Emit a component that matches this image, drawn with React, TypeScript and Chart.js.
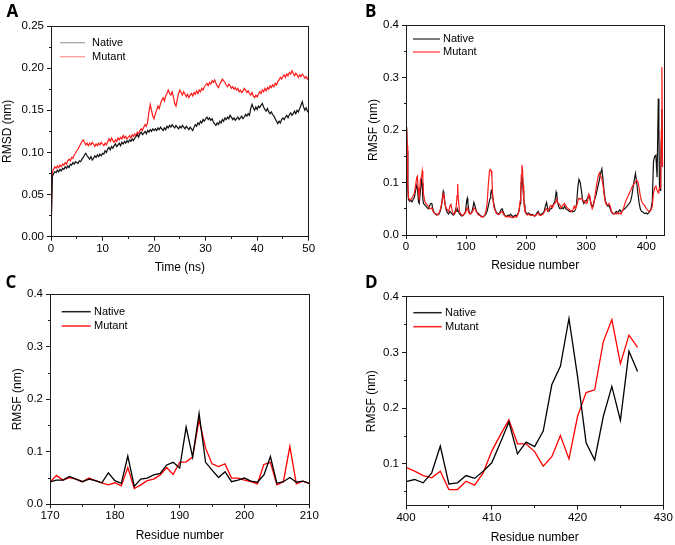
import React, { useEffect, useRef } from "react";
import { Chart, registerables } from "chart.js";
Chart.register(...registerables);

const FONT = "'Liberation Sans', Arial, Helvetica, sans-serif";

// ---------- Panel A : RMSD vs time ----------
const timeNs = Array.from({ length: 201 }, (_, i) => i * 0.25);
const rmsdNative = [
  0, 0.071, 0.075, 0.077, 0.076, 0.079, 0.077, 0.080, 0.078, 0.081, 0.080, 0.083, 0.081, 0.084, 0.082, 0.086, 0.085, 0.088, 0.086, 0.089, 0.088,
  0.087, 0.090, 0.089, 0.092, 0.094, 0.097, 0.099, 0.096, 0.094, 0.092, 0.095, 0.091, 0.093, 0.096, 0.094, 0.097, 0.095, 0.098, 0.096, 0.099,
  0.098, 0.102, 0.100, 0.104, 0.106, 0.103, 0.107, 0.105, 0.108, 0.110, 0.107, 0.109, 0.111, 0.108, 0.112, 0.110, 0.113, 0.111, 0.114, 0.112,
  0.115, 0.113, 0.116, 0.114, 0.117, 0.119, 0.121, 0.118, 0.122, 0.124, 0.121, 0.123, 0.125, 0.122, 0.126, 0.124, 0.127, 0.125, 0.128, 0.126,
  0.128, 0.126, 0.129, 0.127, 0.130, 0.128, 0.126, 0.129, 0.127, 0.131, 0.129, 0.132, 0.130, 0.133, 0.131, 0.129, 0.132, 0.130, 0.128, 0.131,
  0.129, 0.132, 0.130, 0.128, 0.131, 0.129, 0.127, 0.130, 0.128, 0.126, 0.130, 0.133, 0.131, 0.135, 0.133, 0.137, 0.135, 0.139, 0.137, 0.140,
  0.142, 0.139, 0.141, 0.138, 0.140, 0.136, 0.134, 0.132, 0.135, 0.133, 0.137, 0.135, 0.139, 0.137, 0.141, 0.139, 0.142, 0.140, 0.144, 0.142,
  0.139, 0.141, 0.138, 0.140, 0.142, 0.139, 0.141, 0.143, 0.140, 0.142, 0.145, 0.143, 0.146, 0.144, 0.152, 0.157, 0.153, 0.150, 0.154, 0.151,
  0.155, 0.153, 0.156, 0.158, 0.154, 0.151, 0.149, 0.152, 0.148, 0.146, 0.148, 0.145, 0.143, 0.140, 0.137, 0.134, 0.137, 0.135, 0.139, 0.141,
  0.139, 0.142, 0.144, 0.141, 0.145, 0.147, 0.144, 0.146, 0.149, 0.146, 0.150, 0.148, 0.152, 0.156, 0.160, 0.154, 0.150, 0.153, 0.149, 0.147,
];
const rmsdMutant = [
  0, 0.076, 0.080, 0.083, 0.081, 0.084, 0.082, 0.085, 0.083, 0.086, 0.085, 0.088, 0.086, 0.090, 0.092, 0.090, 0.094, 0.093, 0.097, 0.099, 0.102,
  0.104, 0.107, 0.110, 0.113, 0.115, 0.112, 0.109, 0.111, 0.108, 0.111, 0.109, 0.112, 0.110, 0.107, 0.110, 0.108, 0.111, 0.109, 0.112, 0.110,
  0.108, 0.111, 0.109, 0.113, 0.116, 0.113, 0.117, 0.114, 0.112, 0.115, 0.113, 0.117, 0.115, 0.118, 0.116, 0.120, 0.117, 0.119, 0.116, 0.118,
  0.120, 0.117, 0.121, 0.119, 0.122, 0.120, 0.124, 0.122, 0.126, 0.128, 0.126, 0.130, 0.133, 0.131, 0.136, 0.148, 0.157, 0.150, 0.143, 0.140,
  0.146, 0.150, 0.155, 0.152, 0.158, 0.162, 0.165, 0.161, 0.167, 0.170, 0.174, 0.170, 0.168, 0.172, 0.166, 0.158, 0.155, 0.163, 0.170, 0.174,
  0.171, 0.168, 0.172, 0.169, 0.166, 0.169, 0.165, 0.168, 0.170, 0.167, 0.171, 0.169, 0.173, 0.170, 0.174, 0.172, 0.176, 0.174, 0.178, 0.180,
  0.182, 0.179, 0.183, 0.181, 0.185, 0.183, 0.186, 0.182, 0.179, 0.177, 0.181, 0.184, 0.187, 0.185, 0.183, 0.180, 0.178, 0.181, 0.179, 0.176,
  0.178, 0.175, 0.177, 0.174, 0.176, 0.172, 0.174, 0.171, 0.173, 0.176, 0.174, 0.171, 0.173, 0.170, 0.168, 0.171, 0.167, 0.165, 0.168, 0.166,
  0.169, 0.172, 0.170, 0.174, 0.172, 0.176, 0.173, 0.177, 0.175, 0.179, 0.177, 0.180, 0.178, 0.182, 0.180, 0.184, 0.186, 0.189, 0.187, 0.190,
  0.192, 0.189, 0.193, 0.191, 0.195, 0.193, 0.197, 0.194, 0.191, 0.194, 0.192, 0.189, 0.192, 0.190, 0.193, 0.191, 0.188, 0.190, 0.187, 0.189,
];

// ---------- Panel B : RMSF whole protein ----------
const bResidues = [
  1, 2, 3, 4, 6, 8, 10, 12, 14, 16,
  18, 19, 20, 21, 22, 24, 26, 27, 28, 29,
  31, 33, 35, 37, 39, 41, 43, 45, 47, 49,
  51, 53, 55, 57, 59, 61, 62, 63, 65, 67,
  69, 71, 73, 75, 77, 79, 81, 83, 85, 86,
  87, 89, 91, 93, 95, 97, 99, 101, 102, 103,
  105, 107, 109, 111, 113, 115, 117, 119, 121, 123,
  125, 127, 129, 131, 133, 135, 137, 139, 140, 141,
  142, 143, 144, 146, 148, 150, 152, 154, 156, 158,
  160, 162, 164, 166, 168, 170, 172, 174, 176, 178,
  180, 182, 184, 186, 188, 190, 191, 192, 193, 194,
  195, 196, 197, 198, 200, 202, 204, 206, 208, 210,
  212, 214, 216, 218, 220, 222, 224, 226, 228, 230,
  232, 234, 236, 238, 240, 242, 244, 246, 248, 250,
  251, 252, 254, 256, 258, 260, 262, 264, 266, 268,
  270, 272, 274, 276, 278, 280, 282, 284, 286, 288,
  290, 292, 294, 296, 298, 300, 302, 304, 306, 308,
  310, 312, 314, 316, 318, 320, 322, 324, 326, 328,
  330, 332, 334, 336, 338, 340, 342, 344, 346, 348,
  350, 352, 354, 356, 358, 360, 362, 364, 366, 368,
  370, 372, 374, 376, 378, 380, 382, 384, 386, 388,
  390, 392, 394, 396, 398, 400, 402, 404, 406, 408,
  410, 412, 414, 416, 418, 420, 421, 422, 423, 424,
  425, 426, 427,
];
const bNative = [
  0.205, 0.16, 0.09, 0.068, 0.064, 0.066, 0.063, 0.068, 0.072, 0.085,
  0.095, 0.09, 0.075, 0.062, 0.06, 0.085, 0.105, 0.098, 0.07, 0.06,
  0.058, 0.055, 0.052, 0.05, 0.055, 0.06, 0.06, 0.048, 0.042, 0.04,
  0.038, 0.04, 0.04, 0.045, 0.055, 0.075, 0.083, 0.078, 0.06, 0.048,
  0.042, 0.04, 0.045, 0.042, 0.04, 0.038, 0.042, 0.05, 0.045, 0.048,
  0.045, 0.04, 0.038, 0.036, 0.037, 0.04, 0.045, 0.065, 0.07, 0.06,
  0.045, 0.04, 0.042, 0.05, 0.062, 0.055, 0.045, 0.042, 0.04, 0.038,
  0.036, 0.035, 0.035, 0.037, 0.04, 0.045, 0.055, 0.065, 0.07, 0.078,
  0.085, 0.087, 0.075, 0.06, 0.05, 0.044, 0.041, 0.04, 0.042, 0.048,
  0.05, 0.044, 0.038, 0.036, 0.036, 0.038, 0.036, 0.04, 0.037, 0.035,
  0.036, 0.038, 0.036, 0.04, 0.045, 0.06, 0.08, 0.1, 0.112, 0.105,
  0.085, 0.07, 0.058, 0.048, 0.042, 0.04, 0.042, 0.04, 0.038, 0.039,
  0.038, 0.036, 0.038, 0.042, 0.045, 0.04, 0.038, 0.04, 0.042, 0.045,
  0.055, 0.062, 0.05, 0.045, 0.05, 0.05, 0.055, 0.06, 0.065, 0.082,
  0.078, 0.065, 0.055, 0.05, 0.05, 0.052, 0.05, 0.055, 0.05, 0.048,
  0.047, 0.045, 0.044, 0.046, 0.044, 0.045, 0.048, 0.06, 0.09, 0.106,
  0.1, 0.085, 0.065, 0.06, 0.065, 0.065, 0.07, 0.075, 0.07, 0.06,
  0.055, 0.058, 0.068, 0.075, 0.085, 0.095, 0.105, 0.118, 0.126, 0.105,
  0.08, 0.065, 0.058, 0.055, 0.056, 0.05, 0.044, 0.041, 0.04, 0.042,
  0.045, 0.042, 0.045, 0.048, 0.044, 0.046, 0.048, 0.05, 0.052, 0.055,
  0.058, 0.06, 0.065, 0.075, 0.09, 0.105, 0.117, 0.1, 0.08, 0.062,
  0.05, 0.045, 0.044, 0.042, 0.041, 0.042, 0.04, 0.042, 0.045, 0.05,
  0.065, 0.14, 0.15, 0.152, 0.11, 0.26, 0.2, 0.09, 0.085, 0.12,
  0.18, 0.24, 0.13,
];
const bMutant = [
  0.205, 0.17, 0.1, 0.072, 0.066, 0.068, 0.07, 0.075, 0.08, 0.095,
  0.11, 0.112, 0.09, 0.075, 0.07, 0.105, 0.112, 0.122, 0.11, 0.08,
  0.065, 0.06, 0.058, 0.055, 0.05, 0.05, 0.052, 0.045, 0.042, 0.04,
  0.04, 0.038, 0.042, 0.048, 0.058, 0.07, 0.078, 0.075, 0.058, 0.05,
  0.048, 0.045, 0.055, 0.058, 0.045, 0.04, 0.04, 0.045, 0.075, 0.097,
  0.07, 0.045, 0.04, 0.038, 0.038, 0.04, 0.042, 0.05, 0.052, 0.048,
  0.042, 0.04, 0.042, 0.045, 0.052, 0.05, 0.045, 0.04, 0.038, 0.037,
  0.035, 0.034, 0.035, 0.038, 0.045, 0.06, 0.095, 0.122, 0.125, 0.124,
  0.122, 0.11, 0.08, 0.055, 0.048, 0.042, 0.04, 0.039, 0.04, 0.044,
  0.045, 0.04, 0.037, 0.035, 0.034, 0.036, 0.034, 0.035, 0.033, 0.033,
  0.034, 0.035, 0.034, 0.038, 0.045, 0.065, 0.085, 0.115, 0.133, 0.125,
  0.095, 0.07, 0.055, 0.045, 0.04, 0.038, 0.04, 0.038, 0.037, 0.038,
  0.037, 0.036, 0.037, 0.04, 0.042, 0.038, 0.037, 0.038, 0.04, 0.043,
  0.048, 0.05, 0.045, 0.048, 0.055, 0.056, 0.052, 0.058, 0.06, 0.065,
  0.07, 0.062, 0.06, 0.058, 0.052, 0.055, 0.058, 0.06, 0.056, 0.052,
  0.05, 0.048, 0.046, 0.045, 0.048, 0.055, 0.05, 0.055, 0.065, 0.07,
  0.068, 0.07, 0.068, 0.063, 0.065, 0.06, 0.062, 0.078, 0.075, 0.058,
  0.05, 0.055, 0.07, 0.085, 0.1, 0.112, 0.118, 0.112, 0.108, 0.095,
  0.075, 0.062, 0.057, 0.058, 0.06, 0.055, 0.045, 0.042, 0.04, 0.041,
  0.04, 0.043, 0.04, 0.042, 0.04, 0.045, 0.05, 0.058, 0.065, 0.07,
  0.075, 0.08, 0.085, 0.09, 0.095, 0.098, 0.1, 0.105, 0.102, 0.09,
  0.075, 0.065, 0.06, 0.058, 0.055, 0.05, 0.048, 0.045, 0.046, 0.048,
  0.055, 0.08, 0.09, 0.093, 0.085, 0.08, 0.085, 0.09, 0.09, 0.1,
  0.2, 0.32, 0.13,
];

// ---------- Panel C : residues 170-210 ----------
const cResidues = Array.from({ length: 41 }, (_, i) => 170 + i);
const cNative = [
  0.0425, 0.046, 0.046, 0.053, 0.048, 0.043, 0.048, 0.045, 0.041, 0.06,
  0.045, 0.04, 0.092, 0.034, 0.048, 0.05, 0.056, 0.059, 0.075, 0.08,
  0.069, 0.147, 0.09, 0.173, 0.08, 0.065, 0.051, 0.062, 0.043, 0.046,
  0.05, 0.044, 0.042, 0.056, 0.091, 0.04, 0.043, 0.051, 0.042, 0.044,
  0.04,
];
const cMutant = [
  0.042, 0.055, 0.046, 0.051, 0.048, 0.043, 0.05, 0.045, 0.041, 0.037,
  0.041, 0.035, 0.07, 0.03, 0.037, 0.045, 0.048, 0.056, 0.07, 0.057,
  0.08, 0.081, 0.09, 0.161, 0.107, 0.077, 0.072, 0.077, 0.05, 0.05,
  0.046, 0.043, 0.039, 0.076, 0.08, 0.037, 0.043, 0.11, 0.039, 0.044,
  0.04,
];

// ---------- Panel D : residues 400-427 ----------
const dResidues = Array.from({ length: 28 }, (_, i) => 400 + i);
const dNative = [
  0.068, 0.072, 0.066, 0.084, 0.132, 0.064, 0.066, 0.079, 0.074, 0.087,
  0.102, 0.138, 0.175, 0.118, 0.139, 0.131, 0.159, 0.242, 0.275, 0.361,
  0.257, 0.138, 0.107, 0.185, 0.239, 0.178, 0.302, 0.266,
];
const dMutant = [
  0.094, 0.087, 0.079, 0.075, 0.087, 0.054, 0.054, 0.069, 0.062, 0.084,
  0.123, 0.152, 0.179, 0.136, 0.136, 0.122, 0.096, 0.113, 0.151, 0.109,
  0.185, 0.228, 0.233, 0.319, 0.359, 0.28, 0.331, 0.309,
];

const legendLabels = ["Native", "Mutant"];

type Series = { x: number[]; y: number[]; color: string; order: number };
type Cfg = {
  letter: string;
  letterPos: [number, number];
  rect: [number, number, number, number];
  yAxisW: number;
  xAxisH: number;
  padTop: number;
  padRight: number;
  xTitlePad: number;
  yTitlePad: number;
  xMin: number;
  xMax: number;
  yMin: number;
  yMax: number;
  xMajor: number[];
  xMinor: number[];
  yMajor: number[];
  yMinor: number[];
  yDec: number;
  xTitle: string;
  yTitle: string;
  lineWidth: number;
  series: Series[];
  legend: { x0: number; x1: number; tx: number; dy: number[]; colors: string[]; lw: number };
};

const panels: Cfg[] = [
  {
    letter: "A",
    letterPos: [6.5, 2],
    rect: [0, 0, 340, 276],
    yAxisW: 51,
    xAxisH: 39.3,
    padTop: 26,
    padRight: 31.3,
    xTitlePad: 1.3,
    yTitlePad: 0.8,
    xMin: 0,
    xMax: 50,
    yMin: 0,
    yMax: 0.25,
    xMajor: [0, 10, 20, 30, 40, 50],
    xMinor: [5, 15, 25, 35, 45],
    yMajor: [0, 0.05, 0.1, 0.15, 0.2, 0.25],
    yMinor: [0.025, 0.075, 0.125, 0.175, 0.225],
    yDec: 2,
    xTitle: "Time (ns)",
    yTitle: "RMSD (nm)",
    lineWidth: 1.2,
    series: [
      { x: timeNs, y: rmsdNative, color: "#111111", order: 0 },
      { x: timeNs, y: rmsdMutant, color: "#ff1a1a", order: 1 },
    ],
    legend: { x0: 9, x1: 34, tx: 41, dy: [16.7, 30.7], colors: ["#a8a8a8", "#ff9a9a"], lw: 1.3 },
  },
  {
    letter: "B",
    letterPos: [365, 2],
    rect: [365, 0, 310, 276],
    yAxisW: 41,
    xAxisH: 41,
    padTop: 25,
    padRight: 10.7,
    xTitlePad: 3.3,
    yTitlePad: 1.1,
    xMin: 0,
    xMax: 430,
    yMin: 0,
    yMax: 0.4,
    xMajor: [0, 100, 200, 300, 400],
    xMinor: [50, 150, 250, 350],
    yMajor: [0, 0.1, 0.2, 0.3, 0.4],
    yMinor: [0.05, 0.15, 0.25, 0.35],
    yDec: 1,
    xTitle: "Residue number",
    yTitle: "RMSF (nm)",
    lineWidth: 1.2,
    series: [
      { x: bResidues, y: bNative, color: "#111111", order: 1 },
      { x: bResidues, y: bMutant, color: "#ff1a1a", order: 0 },
    ],
    legend: { x0: 7, x1: 34, tx: 37, dy: [14, 27], colors: ["#333333", "#ff4040"], lw: 1.3 },
  },
  {
    letter: "C",
    letterPos: [5.5, 272.5],
    rect: [9, 276, 331, 269],
    yAxisW: 41,
    xAxisH: 40.7,
    padTop: 18.3,
    padRight: 30.7,
    xTitlePad: 1.8,
    yTitlePad: 1.3,
    xMin: 170,
    xMax: 210,
    yMin: 0,
    yMax: 0.4,
    xMajor: [170, 180, 190, 200, 210],
    xMinor: [175, 185, 195, 205],
    yMajor: [0, 0.1, 0.2, 0.3, 0.4],
    yMinor: [0.05, 0.15, 0.25, 0.35],
    yDec: 1,
    xTitle: "Residue number",
    yTitle: "RMSF (nm)",
    lineWidth: 1.3,
    series: [
      { x: cResidues, y: cNative, color: "#000000", order: 0 },
      { x: cResidues, y: cMutant, color: "#ff0000", order: 1 },
    ],
    legend: { x0: 11.7, x1: 40.7, tx: 44, dy: [17.4, 31.7], colors: ["#222222", "#ff2020"], lw: 1.5 },
  },
  {
    letter: "D",
    letterPos: [365, 272.5],
    rect: [363, 276, 312, 269],
    yAxisW: 43,
    xAxisH: 39.3,
    padTop: 20.7,
    padRight: 11.7,
    xTitlePad: 0.3,
    yTitlePad: 1.5,
    xMin: 400,
    xMax: 430,
    yMin: 0.025,
    yMax: 0.4,
    xMajor: [400, 410, 420, 430],
    xMinor: [405, 415, 425],
    yMajor: [0.1, 0.2, 0.3, 0.4],
    yMinor: [0.05, 0.15, 0.25, 0.35],
    yDec: 1,
    xTitle: "Residue number",
    yTitle: "RMSF (nm)",
    lineWidth: 1.3,
    series: [
      { x: dResidues, y: dNative, color: "#000000", order: 0 },
      { x: dResidues, y: dMutant, color: "#ff0000", order: 1 },
    ],
    legend: { x0: 7.3, x1: 35.7, tx: 39, dy: [16, 30], colors: ["#222222", "#ff2020"], lw: 1.5 },
  },
];

function Panel({ cfg }: { cfg: Cfg }) {
  const ref = useRef<HTMLCanvasElement | null>(null);
  useEffect(() => {
    const canvas = ref.current;
    if (!canvas) return;
    const decor = {
      id: "decor",
      afterDraw(chart: any) {
        const { ctx, chartArea: a, scales } = chart;
        const L = Math.round(a.left - 0.5) + 0.5;
        const R = Math.round(a.right - 0.5) + 0.5;
        const T = Math.round(a.top - 0.5) + 0.5;
        const B = Math.round(a.bottom - 0.5) + 0.5;
        ctx.save();
        ctx.strokeStyle = "#1a1a1a";
        ctx.lineWidth = 1;
        ctx.strokeRect(L, T, R - L, B - T);
        ctx.beginPath();
        cfg.xMinor.forEach((v) => {
          const p = Math.round(scales.x.getPixelForValue(v) - 0.5) + 0.5;
          ctx.moveTo(p, B);
          ctx.lineTo(p, B + 2.5);
        });
        cfg.yMinor.forEach((v) => {
          if (v < cfg.yMin) return;
          const p = Math.round(scales.y.getPixelForValue(v) - 0.5) + 0.5;
          ctx.moveTo(L, p);
          ctx.lineTo(L - 2.5, p);
        });
        ctx.stroke();
        ctx.font = `11px ${FONT}`;
        ctx.textBaseline = "middle";
        ctx.textAlign = "left";
        legendLabels.forEach((lab, i) => {
          const y = a.top + cfg.legend.dy[i];
          ctx.strokeStyle = cfg.legend.colors[i];
          ctx.lineWidth = cfg.legend.lw;
          ctx.beginPath();
          ctx.moveTo(a.left + cfg.legend.x0, y);
          ctx.lineTo(a.left + cfg.legend.x1, y);
          ctx.stroke();
          ctx.fillStyle = "#000";
          ctx.fillText(lab, a.left + cfg.legend.tx, y);
        });
        ctx.restore();
      },
    };
    const tickFont = { family: FONT, size: 11.5 };
    const titleFont = { family: FONT, size: 12 };
    const chart = new Chart(canvas, {
      type: "line",
      data: {
        datasets: cfg.series.map((s, k) => ({
          label: legendLabels[k],
          data: s.x.map((x, i) => ({ x, y: s.y[i] })),
          borderColor: s.color,
          backgroundColor: s.color,
          borderWidth: cfg.lineWidth,
          pointRadius: 0,
          tension: 0,
          fill: false,
          order: s.order,
        })),
      },
      options: {
        responsive: false,
        animation: false,
        events: [],
        layout: { padding: { left: 0, top: cfg.padTop, right: cfg.padRight, bottom: 0 } },
        plugins: { legend: { display: false }, tooltip: { enabled: false } },
        scales: {
          x: {
            type: "linear",
            min: cfg.xMin,
            max: cfg.xMax,
            afterBuildTicks: (s: any) => {
              s.ticks = cfg.xMajor.map((v) => ({ value: v }));
            },
            afterFit: (s: any) => {
              s.height = cfg.xAxisH;
            },
            grid: { drawOnChartArea: false, drawTicks: true, tickLength: 4, color: "#1a1a1a", lineWidth: 1 },
            border: { display: false },
            ticks: {
              color: "#000",
              font: tickFont,
              padding: 1,
              maxRotation: 0,
              autoSkip: false,
              callback: (v: any) => String(v),
            },
            title: {
              display: true,
              text: cfg.xTitle,
              color: "#000",
              font: titleFont,
              padding: { top: 0, bottom: cfg.xTitlePad },
            },
          },
          y: {
            type: "linear",
            min: cfg.yMin,
            max: cfg.yMax,
            afterBuildTicks: (s: any) => {
              s.ticks = cfg.yMajor.map((v) => ({ value: v }));
            },
            afterFit: (s: any) => {
              s.width = cfg.yAxisW;
            },
            grid: { drawOnChartArea: false, drawTicks: true, tickLength: 4, color: "#1a1a1a", lineWidth: 1 },
            border: { display: false },
            ticks: {
              color: "#000",
              font: tickFont,
              padding: 3,
              autoSkip: false,
              callback: (v: any) => Number(v).toFixed(cfg.yDec),
            },
            title: {
              display: true,
              text: cfg.yTitle,
              color: "#000",
              font: titleFont,
              padding: { top: cfg.yTitlePad, bottom: 0 },
            },
          },
        },
      },
      plugins: [decor],
    } as any);
    return () => chart.destroy();
  }, [cfg]);
  const [l, t, w, h] = cfg.rect;
  return (
    <>
      <canvas
        ref={ref}
        width={w}
        height={h}
        style={{ position: "absolute", left: l, top: t, width: w, height: h }}
      />
      <div
        style={{
          position: "absolute",
          left: cfg.letterPos[0],
          top: cfg.letterPos[1],
          fontFamily: "'Open Sans', 'Liberation Sans', sans-serif",
          fontWeight: 700,
          fontSize: 17,
          lineHeight: "17px",
          color: "#000",
        }}
      >
        {cfg.letter}
      </div>
    </>
  );
}

export default function App() {
  return (
    <div
      style={{
        position: "fixed",
        left: 0,
        top: 0,
        width: 675,
        height: 545,
        background: "#fff",
        overflow: "hidden",
      }}
    >
      {panels.map((p) => (
        <Panel key={p.letter} cfg={p} />
      ))}
    </div>
  );
}
